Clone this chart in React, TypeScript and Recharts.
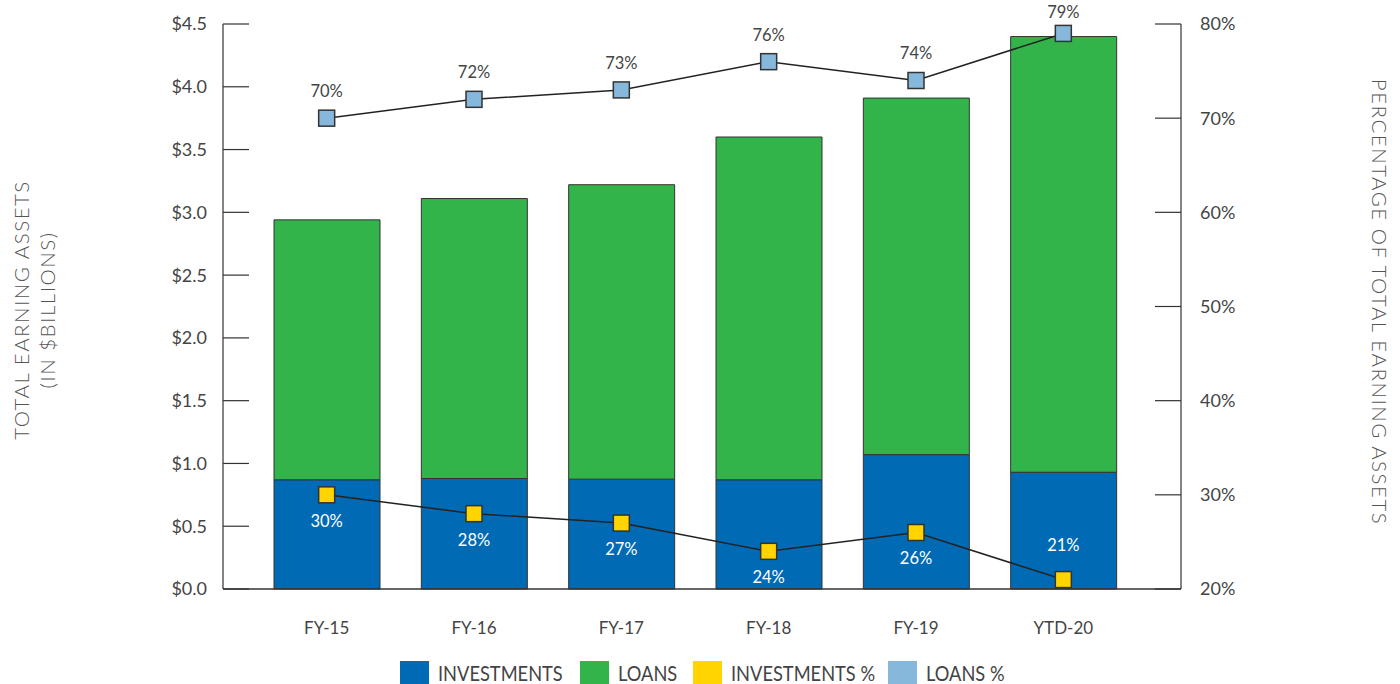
import React from 'react';
import { ComposedChart, Bar, Line, XAxis, YAxis, LabelList } from 'recharts';

const years = ['FY-15', 'FY-16', 'FY-17', 'FY-18', 'FY-19', 'YTD-20'];
const investments = [0.87, 0.88, 0.875, 0.87, 1.07, 0.93];
const loans = [2.07, 2.23, 2.345, 2.73, 2.84, 3.47];
const investmentsPct = [30, 28, 27, 24, 26, 21];
const loansPct = [70, 72, 73, 76, 74, 79];
const leftTicks = [0, 0.5, 1, 1.5, 2, 2.5, 3, 3.5, 4, 4.5];
const rightTicks = [20, 30, 40, 50, 60, 70, 80];

const data = years.map((year, i) => ({
  year,
  investments: investments[i],
  loans: loans[i],
  investmentsPct: investmentsPct[i],
  loansPct: loansPct[i],
}));

const FONT = 'Lato, "Open Sans", sans-serif';
const TEXT = '#444';

const LeftTick = (props: any) => {
  const { x, y, payload } = props;
  return (
    <g>
      <line x1={x + 16} x2={x + 42} y1={y} y2={y} stroke="#333" strokeWidth={1.2} />
      <text x={x} y={y} dy="0.355em" textAnchor="end" fill={TEXT} fontSize={18} fontFamily={FONT}>
        {'$' + payload.value.toFixed(1)}
      </text>
    </g>
  );
};

const RightTick = (props: any) => {
  const { x, y, payload } = props;
  return (
    <g>
      <line x1={x - 19} x2={x - 45} y1={y} y2={y} stroke="#333" strokeWidth={1.2} />
      <text x={x} y={y} dy="0.355em" textAnchor="start" fill={TEXT} fontSize={18} fontFamily={FONT}>
        {payload.value + '%'}
      </text>
    </g>
  );
};

const SquareDot = (fill: string) => (props: any) => {
  const { cx, cy, index } = props;
  if (cx == null || cy == null) return <g key={index} />;
  return <rect key={index} x={cx - 8} y={cy - 8} width={16} height={16} fill={fill} stroke="#333" strokeWidth={1.5} />;
};

const LoansLabel = (props: any) => {
  const { x, y, value } = props;
  return (
    <text x={x} y={Math.max(y - 27, 12)} dy="0.355em" textAnchor="middle" fill={TEXT} fontSize={16.5} fontFamily={FONT}>
      {value + '%'}
    </text>
  );
};

const InvLabel = (props: any) => {
  const { x, y, value, index } = props;
  const above = index === years.length - 1;
  return (
    <text x={x} y={above ? y - 34 : y + 26} dy="0.355em" textAnchor="middle" fill="#fff" fontSize={16.5} fontFamily={FONT}>
      {value + '%'}
    </text>
  );
};

const legendItems = [
  { name: 'INVESTMENTS', color: '#006ab5', left: 400 },
  { name: 'LOANS', color: '#33b44a', left: 580 },
  { name: 'INVESTMENTS %', color: '#ffd400', left: 693 },
  { name: 'LOANS %', color: '#86b8dc', left: 888 },
];

export default function App() {
  return (
    <div style={{ position: 'absolute', left: 0, top: 0, width: 1400, height: 684, background: '#fff', overflow: 'hidden' }}>
      <ComposedChart
        width={1400}
        height={684}
        data={data}
        margin={{ top: 24, left: 143, right: 139, bottom: 55 }}
      >
        <XAxis
          dataKey="year"
          padding={{ left: 30, right: 44 }}
          axisLine={{ stroke: '#333', strokeWidth: 1.5 }}
          tickLine={false}
          tickSize={0}
          tickMargin={33}
          height={40}
          tick={{ fill: TEXT, fontSize: 17, fontFamily: FONT }}
        />
        <YAxis
          yAxisId="left"
          domain={[0, 4.5]}
          ticks={leftTicks}
          width={80}
          axisLine={{ stroke: '#333', strokeWidth: 1.2 }}
          tickLine={false}
          tickSize={0}
          tickMargin={16}
          tick={<LeftTick />}
          interval={0}
        />
        <YAxis
          yAxisId="right"
          orientation="right"
          domain={[20, 80]}
          ticks={rightTicks}
          width={80}
          axisLine={{ stroke: '#333', strokeWidth: 1.2 }}
          tickLine={false}
          tickSize={0}
          tickMargin={19}
          tick={<RightTick />}
          interval={0}
        />
        <Bar yAxisId="left" dataKey="investments" stackId="a" fill="#006ab5" stroke="#333" strokeWidth={1} barSize={106} isAnimationActive={false} />
        <Bar yAxisId="left" dataKey="loans" stackId="a" fill="#33b44a" stroke="#333" strokeWidth={1} barSize={106} isAnimationActive={false} />
        <Line
          yAxisId="right"
          dataKey="loansPct"
          stroke="#222"
          strokeWidth={1.5}
          dot={SquareDot('#86b8dc')}
          activeDot={false}
          isAnimationActive={false}
        >
          <LabelList dataKey="loansPct" content={<LoansLabel />} />
        </Line>
        <Line
          yAxisId="right"
          dataKey="investmentsPct"
          stroke="#222"
          strokeWidth={1.5}
          dot={SquareDot('#ffd400')}
          activeDot={false}
          isAnimationActive={false}
        >
          <LabelList dataKey="investmentsPct" content={<InvLabel />} />
        </Line>
      </ComposedChart>

      <div
        style={{
          position: 'absolute',
          left: 34,
          top: 310,
          transform: 'translate(-50%, -50%) rotate(-90deg)',
          textAlign: 'center',
          fontFamily: FONT,
          fontWeight: 300,
          fontSize: 20.5,
          letterSpacing: 1.5,
          lineHeight: '26px',
          color: '#555',
          whiteSpace: 'nowrap',
        }}
      >
        TOTAL EARNING ASSETS
        <br />
        (IN $BILLIONS)
      </div>
      <div
        style={{
          position: 'absolute',
          left: 1380,
          top: 302,
          transform: 'translate(-50%, -50%) rotate(90deg)',
          fontFamily: FONT,
          fontWeight: 300,
          fontSize: 20.5,
          letterSpacing: 1.5,
          color: '#555',
          whiteSpace: 'nowrap',
        }}
      >
        PERCENTAGE OF TOTAL EARNING ASSETS
      </div>

      {legendItems.map((item) => (
        <div
          key={item.name}
          style={{ position: 'absolute', left: item.left, top: 661, height: 23, display: 'flex', alignItems: 'center', gap: 9 }}
        >
          <div style={{ width: 29, height: 23, background: item.color }} />
          <span
            style={{
              display: 'inline-block',
              fontFamily: FONT,
              fontSize: 22,
              lineHeight: '22px',
              color: TEXT,
              whiteSpace: 'nowrap',
              transform: 'scaleX(0.83)',
              transformOrigin: 'left center',
            }}
          >
            {item.name}
          </span>
        </div>
      ))}
    </div>
  );
}
